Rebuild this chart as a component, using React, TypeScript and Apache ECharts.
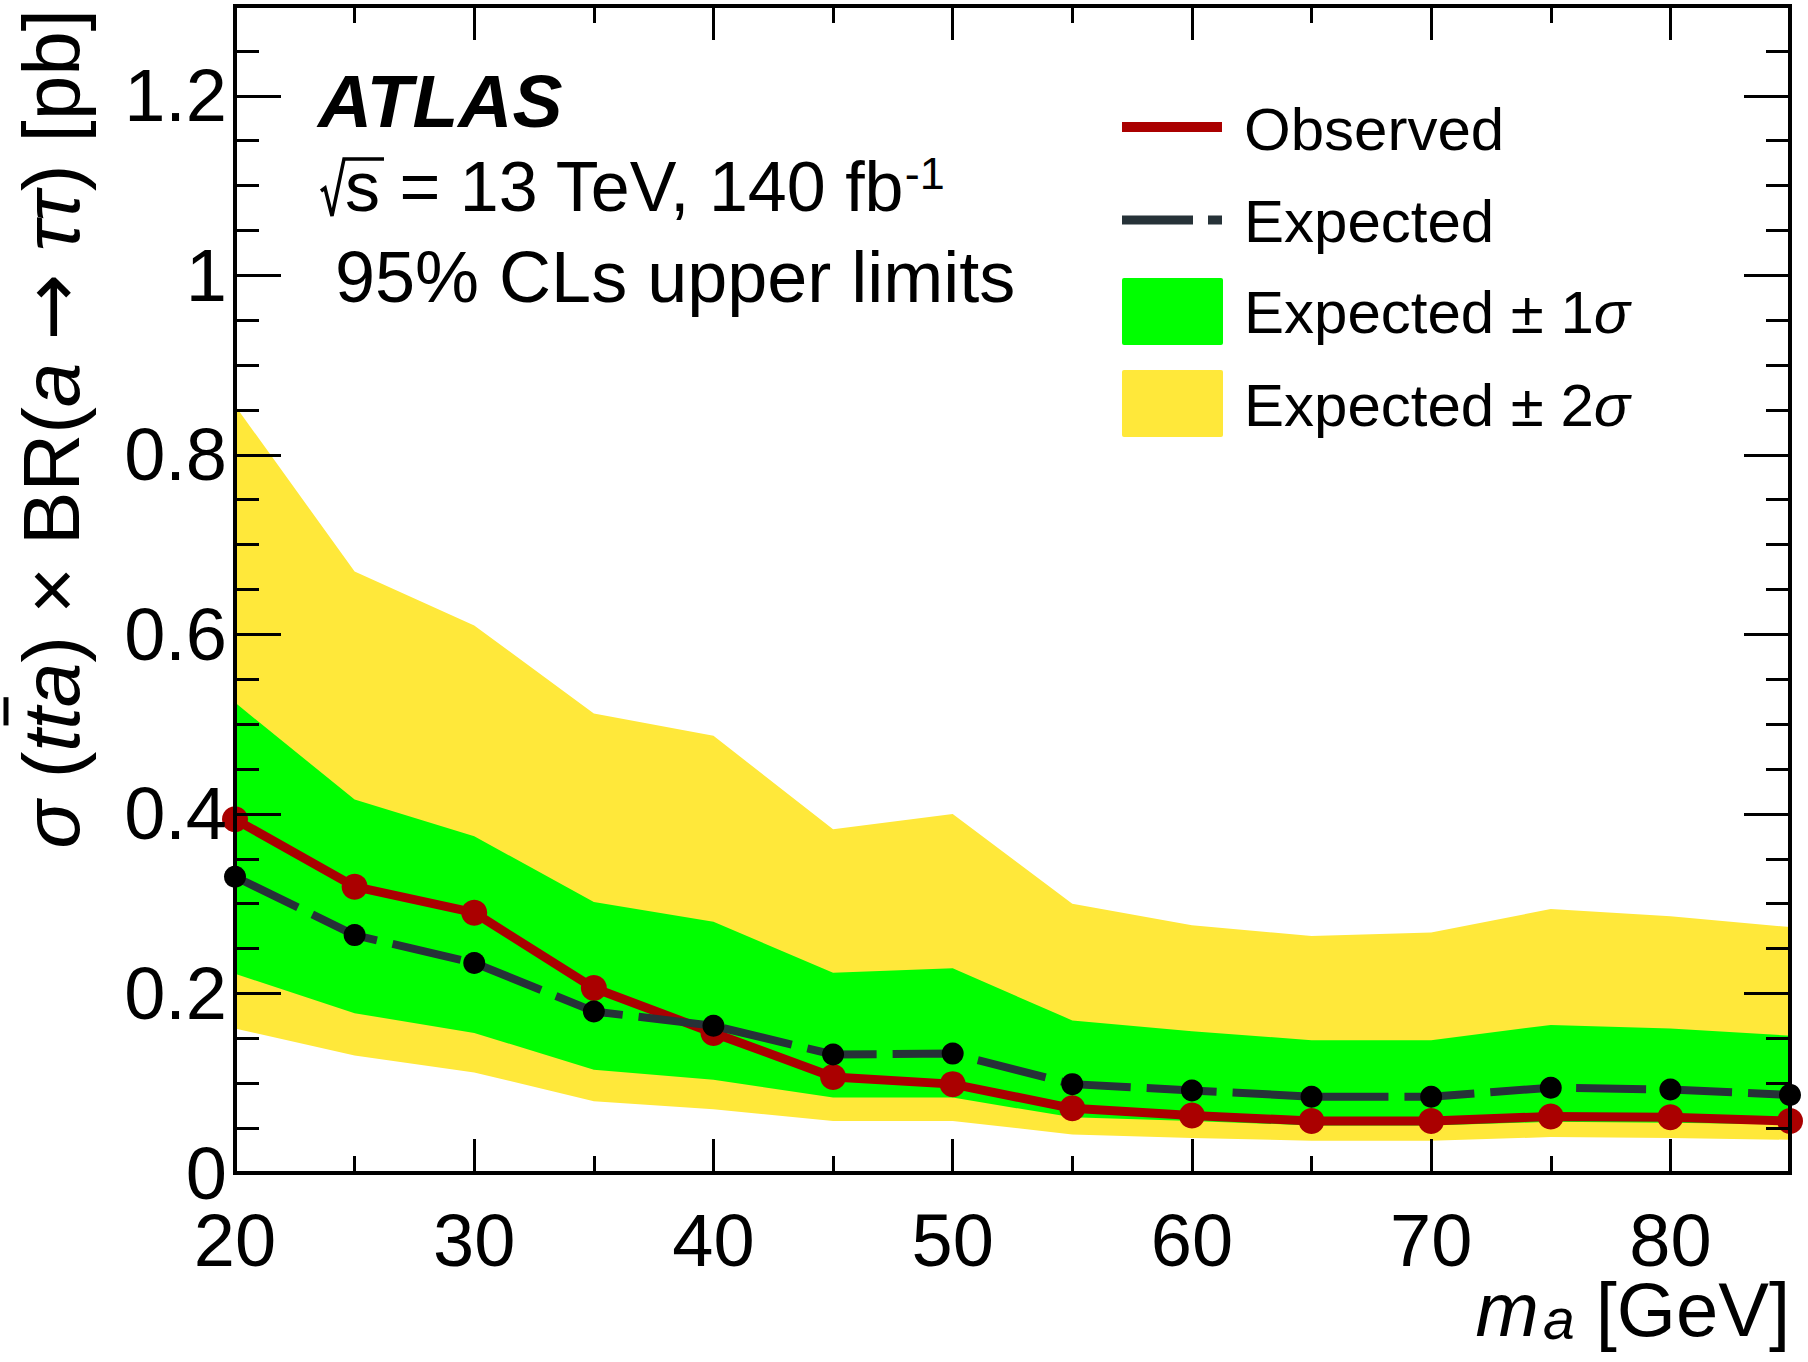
import React, { useEffect, useRef } from 'react';
import * as echarts from 'echarts';

// ---- data ----
const massPoints = [20, 25, 30, 35, 40, 45, 50, 55, 60, 65, 70, 75, 80, 85];
const observed = [0.394, 0.319, 0.290, 0.206, 0.156, 0.107, 0.099, 0.072, 0.064, 0.058, 0.058, 0.063, 0.062, 0.058];
const expected = [0.330, 0.265, 0.234, 0.180, 0.164, 0.132, 0.133, 0.099, 0.092, 0.085, 0.085, 0.095, 0.093, 0.087];
const plus2 = [0.855, 0.670, 0.610, 0.512, 0.487, 0.383, 0.400, 0.300, 0.276, 0.264, 0.268, 0.294, 0.286, 0.274];
const plus1 = [0.524, 0.416, 0.375, 0.302, 0.280, 0.223, 0.228, 0.170, 0.158, 0.148, 0.148, 0.165, 0.161, 0.153];
const minus1 = [0.222, 0.178, 0.156, 0.115, 0.104, 0.084, 0.084, 0.062, 0.058, 0.053, 0.053, 0.057, 0.056, 0.054];
const minus2 = [0.161, 0.131, 0.112, 0.080, 0.071, 0.058, 0.058, 0.043, 0.039, 0.036, 0.036, 0.040, 0.039, 0.037];

const legendLabels = ['Observed', 'Expected', 'Expected ± 1', 'Expected ± 2'];

const FAM = '"Liberation Sans", Arial, Helvetica, sans-serif';
const ARROW_FAM = '"DejaVu Sans", sans-serif';
const RED = '#aa0000';
const DASH = '#263238';
const GREEN = '#00ff00';
const YELLOW = '#ffe83a';

function App() {
  const ref = useRef<HTMLDivElement>(null);

  useEffect(() => {
    if (!ref.current) return;
    const chart = echarts.init(ref.current, undefined, { renderer: 'svg' });

    const canvas = document.createElement('canvas');
    const ctx = canvas.getContext('2d') as CanvasRenderingContext2D;
    const mw = (s: string, font: string) => {
      ctx.font = font;
      return ctx.measureText(s).width;
    };

    // y title
    const FY = 80;
    const fonts: Record<string, string> = {
      n: `${FY}px ${FAM}`,
      i: `italic ${FY}px ${FAM}`,
      ar: `${FY}px ${ARROW_FAM}`,
    };
    const pieces: [string, string][] = [
      ['σ', 'i'], [' (', 'n'], ['t', 'i'], ['t', 'i'], ['a', 'i'], [') × BR(', 'n'],
      ['a', 'i'], [' ', 'n'], ['→', 'ar'], [' ', 'n'], ['ττ', 'i'], [') [pb]', 'n'],
    ];
    const widths = pieces.map(([s, k]) => mw(s, fonts[k]));
    const W = widths.reduce((a, b) => a + b, 0);
    const tStart = -W + widths[0] + widths[1] + widths[2];
    const tW = widths[3];
    const yTitleText = pieces.map(([s, k]) => `{${k}|${s}}`).join('');

    const FT = 72;

    const bandSeries = (lo: number[], hi: number[], color: string, name: string, z: number) => ({
      type: 'custom',
      name,
      xAxisIndex: 0,
      yAxisIndex: 0,
      silent: true,
      z,
      data: [[massPoints[0], 0]],
      encode: { x: 0, y: 1 },
      renderItem: (_params: any, api: any) => {
        const pts: number[][] = [];
        for (let i = 0; i < massPoints.length; i++) pts.push(api.coord([massPoints[i], hi[i]]));
        for (let i = massPoints.length - 1; i >= 0; i--) pts.push(api.coord([massPoints[i], lo[i]]));
        return { type: 'polygon', shape: { points: pts }, style: { fill: color, stroke: null } };
      },
    });

    const axisCommon = {
      type: 'value',
      z: 10,
      splitLine: { show: false },
      axisLine: { onZero: false },
    };

    const tickStyle = { color: '#000', width: 3 };
    const frameStyle = { color: '#000', width: 4, cap: 'square' };

    const xMajor = (pos: string, labels: boolean) => ({
      ...axisCommon,
      position: pos,
      min: 20,
      max: 85,
      interval: 10,
      axisLine: { show: true, onZero: false, lineStyle: frameStyle },
      axisTick: { show: true, inside: true, length: 34, lineStyle: tickStyle },
      axisLabel: labels
        ? {
            show: true,
            margin: 30,
            fontSize: 74,
            lineHeight: 74,
            fontFamily: FAM,
            color: '#000',
            formatter: (v: number) => (v > 82 ? '' : String(Math.round(v))),
          }
        : { show: false },
    });
    const xMinor = (pos: string) => ({
      ...axisCommon,
      position: pos,
      min: 20,
      max: 85,
      interval: 5,
      axisLine: { show: false, onZero: false },
      axisTick: { show: true, inside: true, length: 17, lineStyle: tickStyle },
      axisLabel: { show: false },
    });
    const yMajor = (pos: string, labels: boolean) => ({
      ...axisCommon,
      position: pos,
      min: 0,
      max: 1.3,
      interval: 0.2,
      axisLine: { show: true, onZero: false, lineStyle: frameStyle },
      axisTick: { show: true, inside: true, length: 46, lineStyle: tickStyle },
      axisLabel: labels
        ? {
            show: true,
            margin: 8,
            fontSize: 74,
            lineHeight: 54,
            fontFamily: FAM,
            color: '#000',
            formatter: (v: number) => (v > 1.25 ? '' : String(Math.round(v * 10) / 10)),
          }
        : { show: false },
    });
    const yMinor = (pos: string) => ({
      ...axisCommon,
      position: pos,
      min: 0,
      max: 1.3,
      interval: 0.05,
      axisLine: { show: false, onZero: false },
      axisTick: { show: true, inside: true, length: 24, lineStyle: tickStyle },
      axisLabel: { show: false },
    });

    const legendX1 = 1122;
    const legendX2 = 1222;
    const legendTextX = 1244;
    const FL = 60;
    const legendFont = { fontSize: FL, fontFamily: FAM, fill: '#000' };
    const legendRich = {
      n: { fontSize: FL, fontFamily: FAM, fill: '#000', lineHeight: FL },
      i: { fontSize: FL, fontFamily: FAM, fontStyle: 'italic', fill: '#000', lineHeight: FL },
    };

    const option: any = {
      animation: false,
      grid: { left: 235, right: 18, top: 6, bottom: 189, containLabel: false, outerBoundsMode: 'none' },
      xAxis: [xMajor('bottom', true), xMinor('bottom'), xMajor('top', false), xMinor('top')],
      yAxis: [yMajor('left', true), yMinor('left'), yMajor('right', false), yMinor('right')],
      series: [
        bandSeries(minus2, plus2, YELLOW, 'Expected ± 2σ', 1),
        bandSeries(minus1, plus1, GREEN, 'Expected ± 1σ', 2),
        {
          type: 'line',
          name: 'Observed',
          xAxisIndex: 0,
          yAxisIndex: 0,
          data: massPoints.map((m, i) => [m, observed[i]]),
          symbol: 'circle',
          symbolSize: 26,
          showSymbol: true,
          clip: false,
          silent: true,
          z: 3,
          itemStyle: { color: RED, borderWidth: 0 },
          lineStyle: { color: RED, width: 9 },
        },
        {
          type: 'line',
          name: 'Expected',
          xAxisIndex: 0,
          yAxisIndex: 0,
          data: massPoints.map((m, i) => [m, expected[i]]),
          symbol: 'circle',
          symbolSize: 22,
          showSymbol: true,
          clip: false,
          silent: true,
          z: 4,
          itemStyle: { color: '#000', borderWidth: 0 },
          lineStyle: { color: DASH, width: 8, type: [70, 16] },
        },
      ],
      graphic: [
        // y axis title (rotated)
        {
          type: 'group',
          x: 51,
          y: 9,
          rotation: Math.PI / 2,
          z: 20,
          children: [
            {
              type: 'text',
              x: 0,
              y: 0,
              style: {
                text: yTitleText,
                align: 'right',
                verticalAlign: 'middle',
                fontSize: FY,
                fontFamily: FAM,
                fill: '#000',
                rich: {
                  n: { fontSize: FY, fontFamily: FAM, fill: '#000', lineHeight: FY },
                  i: { fontSize: FY, fontFamily: FAM, fontStyle: 'italic', fill: '#000', lineHeight: FY },
                  ar: { fontSize: FY, fontFamily: ARROW_FAM, fill: '#000', lineHeight: FY },
                },
              },
            },
            {
              type: 'line',
              shape: { x1: tStart + 4, y1: -45, x2: tStart + tW + 10, y2: -45 },
              style: { stroke: '#000', lineWidth: 5 },
            },
          ],
        },
        // x axis title
        {
          type: 'text',
          x: 1790,
          y: 1309,
          z: 20,
          style: {
            text: '{mi|m}{sub|a}{n| [GeV]}',
            align: 'right',
            verticalAlign: 'middle',
            fontSize: 76,
            fontFamily: FAM,
            fill: '#000',
            rich: {
              mi: { fontSize: 76, fontFamily: FAM, fontStyle: 'italic', fill: '#000', lineHeight: 76 },
              sub: {
                fontSize: 57,
                fontFamily: FAM,
                fontStyle: 'italic',
                fill: '#000',
                lineHeight: 45,
                verticalAlign: 'bottom',
                padding: [0, 0, 0, 4],
              },
              n: { fontSize: 76, fontFamily: FAM, fill: '#000', lineHeight: 76 },
            },
          },
        },
        // ATLAS label
        {
          type: 'text',
          x: 318,
          y: 101,
          z: 20,
          style: {
            text: 'ATLAS',
            fontSize: 75,
            fontFamily: FAM,
            fontStyle: 'italic',
            fontWeight: 'bold',
            fill: '#000',
            align: 'left',
            verticalAlign: 'middle',
          },
        },
        // sqrt sign
        {
          type: 'polyline',
          z: 20,
          shape: { points: [[321, 191], [325, 188], [332, 216], [344, 159], [384, 159]] },
          style: { stroke: '#000', lineWidth: 3.5, fill: null },
        },
        {
          type: 'text',
          x: 345,
          y: 187,
          z: 20,
          style: {
            text: '{n|s = 13 TeV, 140 fb}{sup|-1}',
            align: 'left',
            verticalAlign: 'middle',
            fontSize: 70,
            fontFamily: FAM,
            fill: '#000',
            rich: {
              n: { fontSize: 70, fontFamily: FAM, fill: '#000', lineHeight: 72 },
              sup: { fontSize: 45, fontFamily: FAM, fill: '#000', lineHeight: 33, verticalAlign: 'top' },
            },
          },
        },
        {
          type: 'text',
          x: 335,
          y: 277,
          z: 20,
          style: {
            text: '95% CLs upper limits',
            fontSize: FT,
            fontFamily: FAM,
            fill: '#000',
            align: 'left',
            verticalAlign: 'middle',
          },
        },
        // legend
        {
          type: 'line',
          z: 20,
          shape: { x1: legendX1, y1: 127, x2: legendX2, y2: 127 },
          style: { stroke: RED, lineWidth: 10 },
        },
        {
          type: 'line',
          z: 20,
          shape: { x1: legendX1, y1: 220, x2: legendX2, y2: 220 },
          style: { stroke: DASH, lineWidth: 9, lineDash: [71, 15] },
        },
        {
          type: 'rect',
          z: 20,
          shape: { x: legendX1, y: 278, width: 101, height: 67, r: 2 },
          style: { fill: GREEN },
        },
        {
          type: 'rect',
          z: 20,
          shape: { x: legendX1, y: 370, width: 101, height: 67, r: 2 },
          style: { fill: YELLOW },
        },
        {
          type: 'text',
          x: legendTextX,
          y: 129,
          z: 20,
          style: { text: legendLabels[0], ...legendFont, align: 'left', verticalAlign: 'middle' },
        },
        {
          type: 'text',
          x: legendTextX,
          y: 221,
          z: 20,
          style: { text: legendLabels[1], ...legendFont, align: 'left', verticalAlign: 'middle' },
        },
        {
          type: 'text',
          x: legendTextX,
          y: 312,
          z: 20,
          style: {
            text: `{n|${legendLabels[2]}}{i|σ}`,
            ...legendFont,
            align: 'left',
            verticalAlign: 'middle',
            rich: legendRich,
          },
        },
        {
          type: 'text',
          x: legendTextX,
          y: 405,
          z: 20,
          style: {
            text: `{n|${legendLabels[3]}}{i|σ}`,
            ...legendFont,
            align: 'left',
            verticalAlign: 'middle',
            rich: legendRich,
          },
        },
      ],
    };

    chart.setOption(option);
    return () => {
      chart.dispose();
    };
  }, []);

  return (
    <div
      ref={ref}
      style={{ position: 'absolute', left: 0, top: 0, width: 1808, height: 1362, background: '#fff' }}
    />
  );
}

export default App;
